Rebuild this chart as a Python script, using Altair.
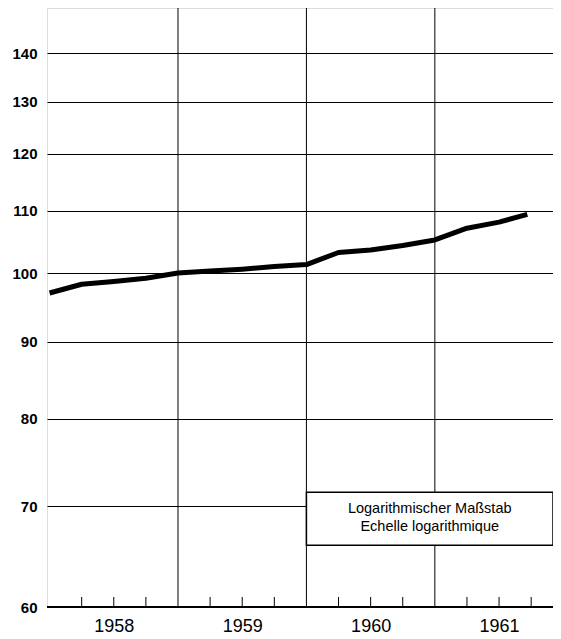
import altair as alt
import pandas as pd

# --- data ---
quarters = [1958.0, 1958.25, 1958.5, 1958.75,
            1959.0, 1959.25, 1959.5, 1959.75,
            1960.0, 1960.25, 1960.5, 1960.75,
            1961.0, 1961.25, 1961.5, 1961.72]
index_values = [97.0, 98.3, 98.7, 99.2,
                100.0, 100.3, 100.6, 101.0,
                101.3, 103.2, 103.6, 104.3,
                105.2, 107.1, 108.1, 109.4]
year_lines = [1959, 1960, 1961]
year_labels = [1958.5, 1959.5, 1960.5, 1961.5]
quarter_ticks = [1958.25, 1958.5, 1958.75, 1959.25, 1959.5, 1959.75,
                 1960.25, 1960.5, 1960.75, 1961.25, 1961.5, 1961.75]
y_ticks = [60, 70, 80, 90, 100, 110, 120, 130, 140]
x_domain = [1957.98, 1961.92]
y_domain = [60, 150]
legend_lines = ["Logarithmischer Maßstab", "Echelle logarithmique"]
legend_box = {"x": 1960.0, "x2": 1961.92, "y": 71.5, "y2": 65.95}

W, H = 506, 599
FONT = "Liberation Sans"

xs = alt.Scale(domain=x_domain, nice=False, zero=False)
ys = alt.Scale(type="log", domain=y_domain, nice=False)

line_df = pd.DataFrame({"x": quarters, "y": index_values})
yl_df = pd.DataFrame({"x": year_lines})
qt_df = pd.DataFrame({"x": quarter_ticks})
box_df = pd.DataFrame([legend_box])
mid_x = (legend_box["x"] + legend_box["x2"]) / 2
mid_y = (legend_box["y"] * legend_box["y2"]) ** 0.5

base = alt.Chart(line_df).mark_line(
    color="black", strokeWidth=5, strokeCap="butt", strokeJoin="round"
).encode(
    x=alt.X("x:Q", scale=xs, axis=alt.Axis(
        values=year_labels, labelExpr="floor(datum.value)", ticks=False,
        grid=False, domain=False, title=None, labelFontSize=18,
        labelFont=FONT, labelColor="black", labelPadding=10)),
    y=alt.Y("y:Q", scale=ys, axis=alt.Axis(
        values=y_ticks, ticks=False, grid=True, gridColor="black",
        gridOpacity=1, gridWidth=1, domain=False, title=None,
        labelFontSize=15, labelFont=FONT, labelFontWeight="bold",
        labelColor="black", labelPadding=10, format="d")),
)

vlines = alt.Chart(yl_df).mark_rule(color="black", strokeWidth=1).encode(
    x=alt.X("x:Q", scale=xs)
)

qticks = alt.Chart(qt_df).mark_rule(color="black", strokeWidth=1).encode(
    x=alt.X("x:Q", scale=xs), y=alt.value(H - 10), y2=alt.value(H)
)

bottom = alt.Chart(qt_df).mark_rule(color="black", strokeWidth=2).encode(
    x=alt.value(0), x2=alt.value(W), y=alt.value(H)
)

box = alt.Chart(box_df).mark_rect(fill="white", stroke="black", strokeWidth=1.5).encode(
    x=alt.X("x:Q", scale=xs), x2="x2:Q",
    y=alt.Y("y:Q", scale=ys), y2="y2:Q",
)

def legend_text(t, dy):
    df = pd.DataFrame({"x": [mid_x], "y": [mid_y], "t": [t]})
    return alt.Chart(df).mark_text(
        font=FONT, fontSize=14.5, color="black", align="center",
        baseline="middle", dy=dy
    ).encode(x=alt.X("x:Q", scale=xs), y=alt.Y("y:Q", scale=ys), text="t:N")

txt1 = legend_text(legend_lines[0], -10)
txt2 = legend_text(legend_lines[1], 8.5)

chart = alt.layer(vlines, qticks, base, box, txt1, txt2, bottom).properties(
    width=W, height=H,
    autosize=alt.AutoSizeParams(type="none"),
    padding={"left": 39, "top": 0, "right": 0, "bottom": 28},
).configure_view(stroke="black", strokeWidth=1.5).configure(background="white")

chart.save("out.html", embed_options={"renderer": "svg", "actions": False})
